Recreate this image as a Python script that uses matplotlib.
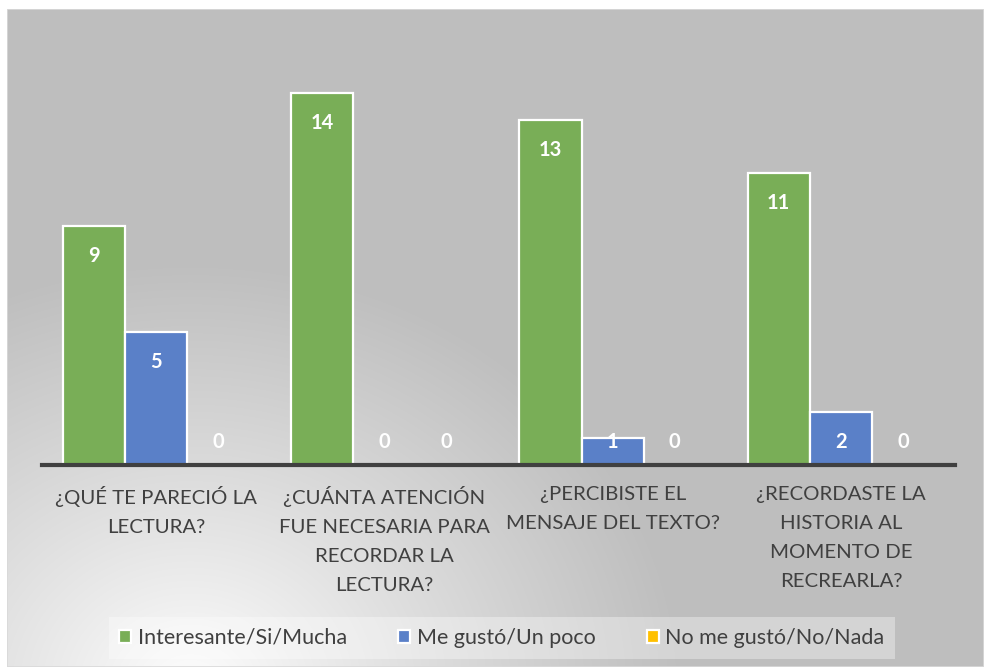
import numpy as np
import matplotlib
matplotlib.use("Agg")
import matplotlib.pyplot as plt
from matplotlib.patches import Rectangle

categories = ["¿QUÉ TE PARECIÓ LA\nLECTURA?",
              "¿CUÁNTA ATENCIÓN\nFUE NECESARIA PARA\nRECORDAR LA\nLECTURA?",
              "¿PERCIBISTE EL\nMENSAJE DEL TEXTO?",
              "¿RECORDASTE LA\nHISTORIA AL\nMOMENTO DE\nRECREARLA?"]
series_names = ["Interesante/Si/Mucha", "Me gustó/Un poco", "No me gustó/No/Nada"]
interesante = [9, 14, 13, 11]
me_gusto = [5, 0, 1, 2]
no_me_gusto = [0, 0, 0, 0]
colors = ["#79AE57", "#5A80C8", "#FFC000"]

plt.rcParams['font.family'] = ['Lato', 'DejaVu Sans']
W, H = 984, 670
fig = plt.figure(figsize=(W / 100, H / 100), dpi=100)
fig.patch.set_facecolor("white")

# background gradient panel
x0, y0, x1, y1 = 7, 9, 984, 667
bg = fig.add_axes([x0 / W, 1 - y1 / H, (x1 - x0) / W, (y1 - y0) / H])
bg.set_axis_off()
nx, ny = x1 - x0, y1 - y0
xx, yy = np.meshgrid(np.arange(nx) + x0, np.arange(ny) + y0)
cx, cy = 190, 690
r = np.sqrt(((xx - cx) / 1.15) ** 2 + (yy - cy) ** 2)
t = np.clip(r / 430, 0, 1) ** 0.9
g = 1.0 * (1 - t) + (190 / 255) * t
img = np.dstack([g, g, g])
bg.imshow(img, aspect='auto', extent=[0, 1, 0, 1], origin='upper')
bg.add_patch(Rectangle((0, 0), 1, 1, transform=bg.transAxes, fill=False,
                       edgecolor="#D9D9D9", lw=1.2))
bg.set_xlim(0, 1); bg.set_ylim(0, 1)

# main axes
ax_l, ax_r, ax_t, ax_b = 42, 955, 40, 465
ax = fig.add_axes([ax_l / W, 1 - ax_b / H, (ax_r - ax_l) / W, (ax_b - ax_t) / H])
ax.set_facecolor("none")
n = len(categories)
ax.set_xlim(-0.5, n - 0.5)
ax.set_ylim(0, 16)
x = np.arange(n)
bw = 0.272
data = [interesante, me_gusto, no_me_gusto]
for i, (vals, c, name) in enumerate(zip(data, colors, series_names)):
    xs = x + (i - 1) * bw
    ax.bar(xs, vals, width=bw, color=c, edgecolor="white", linewidth=1.6, label=name, zorder=2)

fig.canvas.draw()
for i, vals in enumerate(data):
    xs = x + (i - 1) * bw
    for xi, v in zip(xs, vals):
        ptop = ax.transData.transform((xi, v))[1]
        pzero = ax.transData.transform((xi, 0))[1]
        py = max(ptop - 30, pzero + 23)
        off = py - ptop
        ax.annotate(str(v), xy=(xi, v), xytext=(0, off), textcoords='offset pixels',
                    ha='center', va='center', color='white', fontsize=14.5,
                    fontweight='bold', zorder=3)

for s in ["top", "right", "left"]:
    ax.spines[s].set_visible(False)
ax.spines["bottom"].set_color("#404040")
ax.spines["bottom"].set_linewidth(3)
ax.spines["bottom"].set_zorder(4)
ax.set_yticks([])
ax.set_xticks(x)
ax.set_xticklabels(categories, fontsize=14.7, color="#404040", linespacing=1.85, va='top')
ax.tick_params(axis='x', length=0, pad=15)

leg = fig.legend(loc='center', bbox_to_anchor=(502 / W, 1 - 638 / H), ncol=3,
                 fontsize=15.5, frameon=True, facecolor='white', framealpha=0.35,
                 edgecolor='none', fancybox=False, handlelength=0.55, handleheight=0.55,
                 handletextpad=0.3, columnspacing=2.4, borderpad=0.5, borderaxespad=0)
for txt in leg.get_texts():
    txt.set_color("#404040")

fig.savefig("out.png", dpi=100)
